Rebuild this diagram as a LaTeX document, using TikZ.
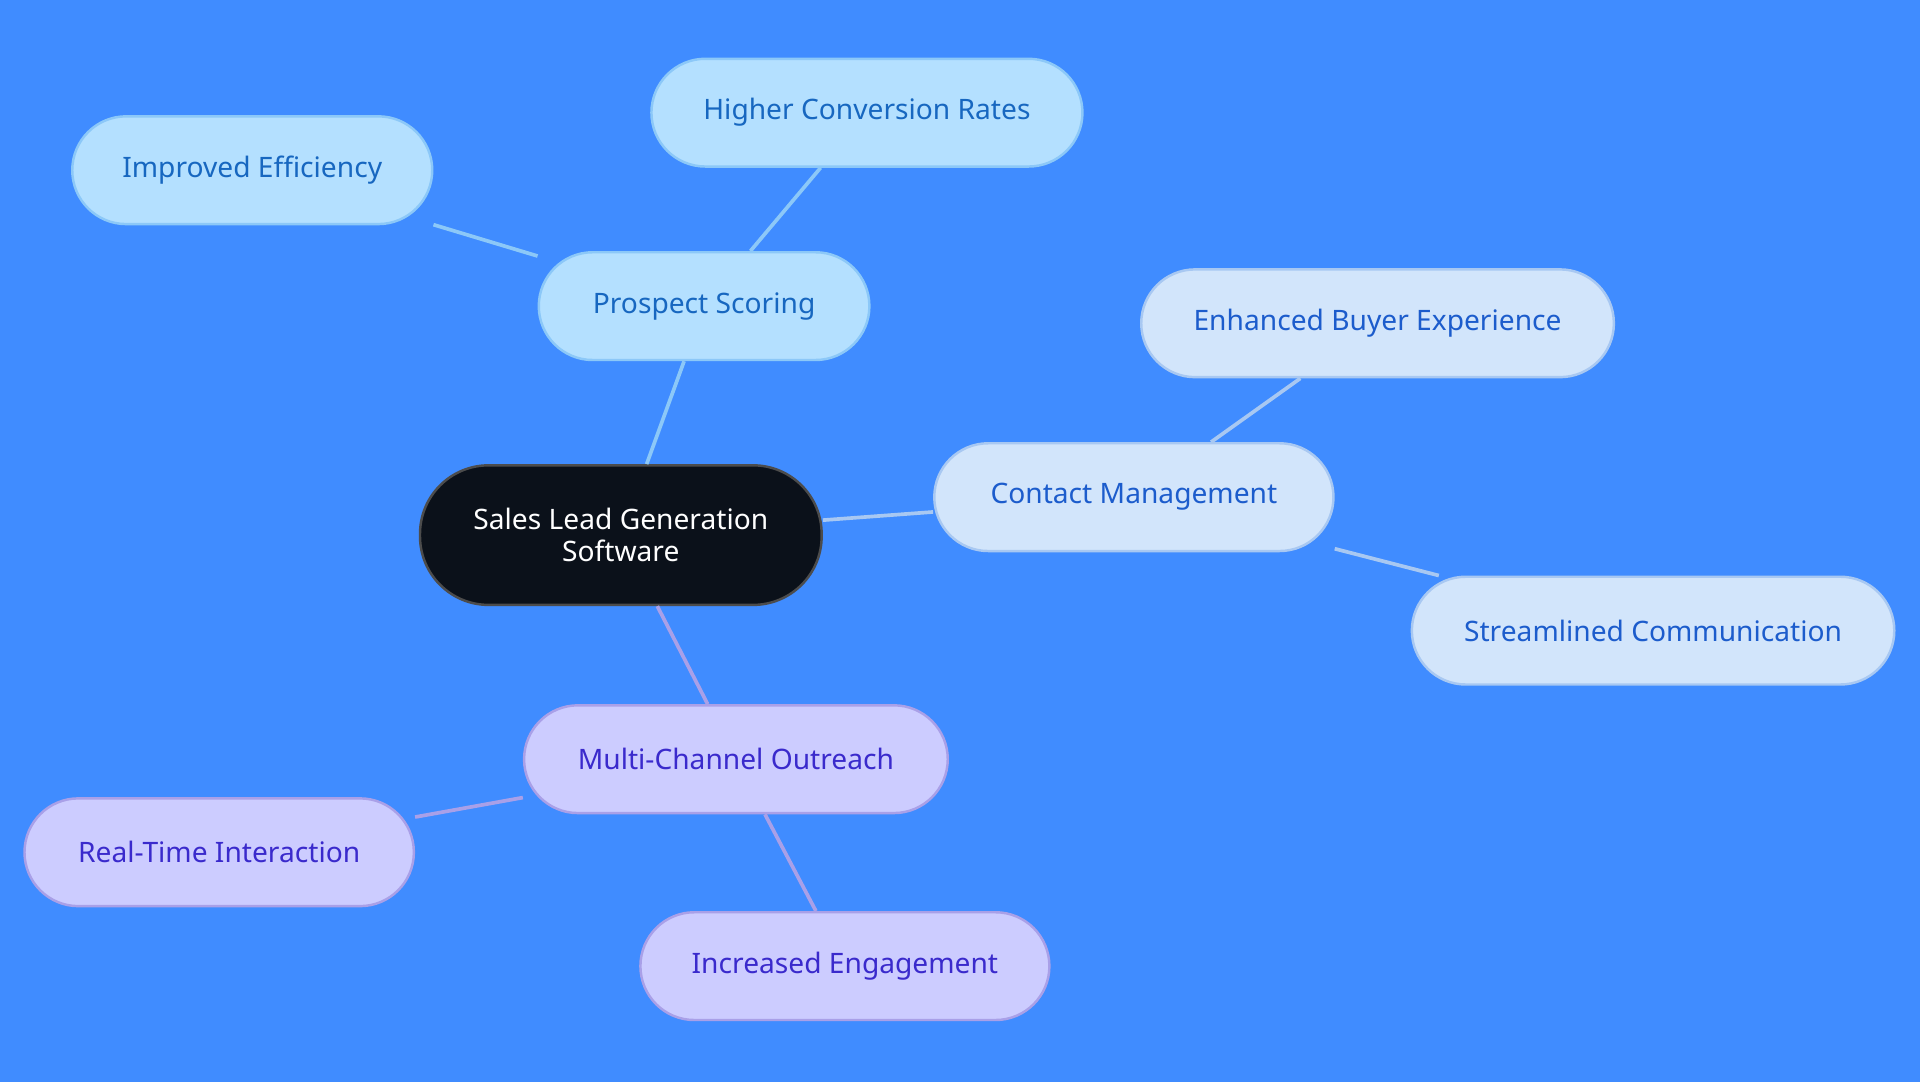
\documentclass[tikz,border=0pt]{standalone}
\usepackage{fontspec}
\setmainfont{Noto Sans}
\begin{document}
\begin{tikzpicture}[x=0.5pt,y=-0.5pt,
 box/.style={rounded corners=22pt,draw,line width=1pt,inner sep=0pt,font=\fontsize{11.5}{13}\selectfont,align=center},
 psbox/.style={box,fill=ps,draw=psd,text=pst},
 cmbox/.style={box,fill=cmf,draw=cmd,text=cmt},
 mobox/.style={box,fill=mof,draw=mod,text=mot},
 e/.style={line width=1.5pt}]
\definecolor{bg}{HTML}{408CFF}
\definecolor{ps}{HTML}{B4E0FF}\definecolor{psd}{HTML}{8CC8F8}\definecolor{pst}{HTML}{1767C0}
\definecolor{cmf}{HTML}{D2E5FB}\definecolor{cmd}{HTML}{A8C8F2}\definecolor{cmt}{HTML}{1C5CCC}
\definecolor{mof}{HTML}{CCCCFF}\definecolor{mod}{HTML}{A9A0E8}\definecolor{mot}{HTML}{3A2ACC}
\definecolor{cfill}{HTML}{0B111A}
\fill[bg] (0,0) rectangle (1568,884);
\useasboundingbox (0,0) rectangle (1568,884);
\node[box,fill=cfill,draw=black!70,text=white,minimum width=164pt,minimum height=57pt,rounded corners=28pt] (c) at (507,437) {Sales Lead Generation\\Software};
\node[psbox,minimum width=135pt,minimum height=44pt] (p) at (575,250) {Prospect Scoring};
\node[psbox,minimum width=176pt,minimum height=44pt] (p1) at (708,92) {Higher Conversion Rates};
\node[psbox,minimum width=147pt,minimum height=44pt] (p2) at (206,139) {Improved Efficiency};
\node[cmbox,minimum width=163pt,minimum height=44pt] (m) at (926,406) {Contact Management};
\node[cmbox,minimum width=193pt,minimum height=44pt] (m1) at (1125,264) {Enhanced Buyer Experience};
\node[cmbox,minimum width=197pt,minimum height=44pt] (m2) at (1350,515) {Streamlined Communication};
\node[mobox,minimum width=173pt,minimum height=44pt] (o) at (601,620) {Multi-Channel Outreach};
\node[mobox,minimum width=159pt,minimum height=44pt] (o1) at (179,696) {Real-Time Interaction};
\node[mobox,minimum width=167pt,minimum height=44pt] (o2) at (690,789) {Increased Engagement};
\draw[e,draw=psd] (c) -- (p); \draw[e,draw=psd] (p) -- (p1); \draw[e,draw=psd] (p) -- (p2);
\draw[e,draw=cmd] (c) -- (m); \draw[e,draw=cmd] (m) -- (m1); \draw[e,draw=cmd] (m) -- (m2);
\draw[e,draw=mod] (c) -- (o); \draw[e,draw=mod] (o) -- (o1); \draw[e,draw=mod] (o) -- (o2);
\end{tikzpicture}
\end{document}
